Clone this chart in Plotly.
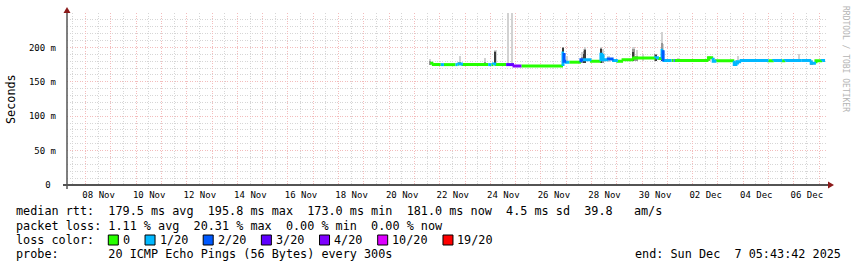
import pandas as pd
import plotly.graph_objects as go

# ------------------------------------------------------------------ data
# median RTT as step segments: start time, median (ms), lost pings (of 20)
seg_start = [
    "2025-11-21 15:00", "2025-11-21 18:00", "2025-11-22 01:00", "2025-11-22 04:00",
    "2025-11-22 15:00", "2025-11-22 17:00", "2025-11-22 18:00", "2025-11-22 22:00",
    "2025-11-23 22:00", "2025-11-24 01:00", "2025-11-24 03:00", "2025-11-24 05:30",
    "2025-11-24 15:00", "2025-11-24 22:30", "2025-11-25 05:30", "2025-11-26 21:00",
    "2025-11-26 22:00", "2025-11-27 00:00", "2025-11-27 03:00", "2025-11-27 14:00",
    "2025-11-27 16:00", "2025-11-28 00:00", "2025-11-28 09:00", "2025-11-28 11:00",
    "2025-11-28 16:00", "2025-11-28 21:00", "2025-11-29 01:00", "2025-11-29 06:00",
    "2025-11-29 16:00", "2025-11-30 13:00", "2025-11-30 16:00", "2025-11-30 19:00",
    "2025-11-30 20:00", "2025-11-30 21:00", "2025-12-01 04:00", "2025-12-01 06:00",
    "2025-12-01 07:00", "2025-12-02 15:00", "2025-12-02 19:30", "2025-12-02 22:30",
    "2025-12-03 15:30", "2025-12-03 18:30", "2025-12-03 22:00", "2025-12-05 00:00",
    "2025-12-05 05:00", "2025-12-05 13:00", "2025-12-05 16:00", "2025-12-06 07:00",
    "2025-12-06 16:30", "2025-12-06 21:00", "2025-12-07 03:00",
]
seg_median_ms = [
    177, 175, 175, 175,
    175, 175, 176, 175,
    175, 175, 176, 175,
    175, 173, 173, 192,
    180, 178.5, 178.5, 182,
    182, 180, 190, 182,
    183, 181, 180, 182,
    184.5, 185, 184, 195.8,
    182, 181, 181, 181,
    181, 185, 180, 180.5,
    175, 179, 181, 180.5,
    181, 180.5, 181, 181,
    177, 180.5, 181,
]
seg_loss = [
    0, 0, 1, 0,
    1, 0, 1, 0,
    1, 0, 1, 0,
    3, 5, 0, 1,
    2, 1, 0, 2,
    1, 0, 1, 1,
    2, 1, 0, 0,
    0, 1, 0, 1,
    2, 1, 0, 2,
    0, 0, 1, 0,
    1, 1, 1, 0,
    1, 0, 1, 1,
    1, 0, 1,
]
data_end = "2025-12-07 05:40"

# smoke (ping spread) where it is visible: time, low, max, upper-mid, core (ms)
smoke_time = [
    "2025-11-21 15:00", "2025-11-22 19:00", "2025-11-23 19:00", "2025-11-24 05:00",
    "2025-11-24 17:00", "2025-11-24 20:30", "2025-11-26 21:00", "2025-11-27 01:00",
    "2025-11-27 15:00", "2025-11-27 17:00", "2025-11-27 18:00", "2025-11-28 09:00",
    "2025-11-28 11:00", "2025-11-28 16:00", "2025-11-29 16:00", "2025-11-29 19:00",
    "2025-11-30 01:00", "2025-11-30 13:00", "2025-11-30 19:00", "2025-11-30 20:00",
    "2025-12-01 10:00", "2025-12-02 16:00", "2025-12-03 17:00", "2025-12-03 19:00",
    "2025-12-06 05:00", "2025-12-06 17:00",
]
smoke_low_ms = [
    174, 174, 174, 174, 174, 174, 176, 177, 178, 178, 178, 178, 178,
    179, 180, 180, 180, 180, 180, 180, 179, 180, 173, 177, 179, 175,
]
smoke_max_ms = [
    183, 187, 184, 196, 265, 265, 201, 187, 193, 198, 200, 201, 198,
    188, 200, 196, 190, 191, 222, 205, 184, 187, 181, 188, 190, 181,
]
smoke_mid_ms = [
    180, 179, 179, 195, None, None, 200, None, 186, 195, 198, 199, 190,
    None, 197, 188, None, 190, 206, 196, 183, 186, 179, None, None, 179,
]
smoke_core_ms = [
    None, None, None, 193, None, None, 199, None, None, 190, 196, 197, None,
    None, 194, None, None, 189, 197, None, None, None, 178, None, None, None,
]

loss_labels = ["0", "1/20", "2/20", "3/20", "4/20", "10/20", "19/20"]
loss_min_count = [0, 1, 2, 3, 4, 10, 19]
loss_colors = ["#26ff00", "#00b8ff", "#0059ff", "#5e00ff", "#7e00ff", "#dd00ff", "#ff0000"]

x_tick_days = list(pd.date_range("2025-11-08", "2025-12-07", freq="D"))
x_tick_text = [d.strftime("%d %b") if d.day % 2 == 0 else "" for d in x_tick_days]
y_tick_ms = [0, 50, 100, 150, 200]
y_tick_text = ["0\u00a0", "50 m", "100 m", "150 m", "200 m"]

legend_rows = [
    "median rtt:  179.5 ms avg  195.8 ms max  173.0 ms min  181.0 ms now  4.5 ms sd  39.8   am/s",
    "packet loss: 1.11 % avg  20.31 % max  0.00 % min  0.00 % now",
    "loss color:",
    "probe:       20 ICMP Echo Pings (56 Bytes) every 300s",
]
end_text = "end: Sun Dec  7 05:43:42 2025"
watermark = "RRDTOOL / TOBI OETIKER"

# ------------------------------------------------------------------ layout helpers
W, H = 857, 267
PL, PR, PT, PB = 67, 827, 13, 185
MONO = "DejaVu Sans Mono"


def px(x):
    return (x - PL) / (PR - PL)


def py(y):
    return (PB - y) / (PB - PT)


def nb(s):
    return s.replace(" ", "\u00a0")


def loss_class(n):
    return max(i for i, t in enumerate(loss_min_count) if n >= t)


fig = go.Figure()

# smoke layers
def smoke_layer(tops, color, width_ms):
    xs, base, h = [], [], []
    for t, lo, top in zip(smoke_time, smoke_low_ms, tops):
        if top is None:
            continue
        xs.append(t)
        base.append(lo / 1000)
        h.append((top - lo) / 1000)
    return go.Bar(x=xs, y=h, base=base, width=width_ms,
                  marker=dict(color=color, line=dict(width=0)), hoverinfo="skip")


fig.add_trace(smoke_layer(smoke_max_ms, "#d2d2d2", 8400000))
fig.add_trace(smoke_layer(smoke_mid_ms, "#969696", 6000000))
fig.add_trace(smoke_layer(smoke_core_ms, "#3a3a3a", 4800000))

# median line, coloured by loss
seg_end = seg_start[1:] + [data_end]
tx = {c: [] for c in range(len(loss_colors))}
ty = {c: [] for c in range(len(loss_colors))}
for i, (s, e, v, n) in enumerate(zip(seg_start, seg_end, seg_median_ms, seg_loss)):
    c = loss_class(n)
    if i > 0 and seg_median_ms[i - 1] != v:
        tx[c].append(s)
        ty[c].append(seg_median_ms[i - 1] / 1000)
    tx[c] += [s, e, None]
    ty[c] += [v / 1000, v / 1000, None]
for c in range(len(loss_colors)):
    if tx[c]:
        fig.add_trace(go.Scatter(x=tx[c], y=ty[c], mode="lines", connectgaps=False,
                                 line=dict(color=loss_colors[c], width=3)))

RED_GRID = "#f3bcbc"
GRAY_GRID = "#d6d6d6"
DOTS = "1px,1.5px"

fig.update_layout(
    width=W, height=H,
    margin=dict(l=PL, r=W - PR, t=PT, b=H - PB),
    paper_bgcolor="white", plot_bgcolor="white",
    showlegend=False, barmode="overlay", bargap=0,
    xaxis=dict(
        type="date", range=["2025-11-07 06:20", "2025-12-07 07:30"],
        tickmode="array", tickvals=x_tick_days, ticktext=x_tick_text,
        ticklabelshift=13, ticklabelstandoff=3,
        showgrid=True, gridcolor=RED_GRID, griddash=DOTS, gridwidth=1,
        minor=dict(tickmode="linear", tick0="2025-11-07 12:00", dtick=43200000,
                   showgrid=True, gridcolor=GRAY_GRID, griddash=DOTS, gridwidth=1),
        showline=False, zeroline=False, ticks="",
        tickfont=dict(family=MONO, size=9, color="#000"),
    ),
    yaxis=dict(
        range=[0, 0.25], tickmode="array",
        tickvals=[v / 1000 for v in y_tick_ms], ticktext=[nb(t) for t in y_tick_text],
        showgrid=True, gridcolor=RED_GRID, griddash=DOTS, gridwidth=1,
        minor=dict(tickmode="linear", tick0=0, dtick=0.01, showgrid=True,
                   gridcolor=GRAY_GRID, griddash=DOTS, gridwidth=1),
        showline=False, zeroline=False, ticks="", ticklabelstandoff=10,
        tickfont=dict(family=MONO, size=9, color="#000"),
    ),
)

shapes = [
    # axes
    dict(type="line", xref="paper", yref="paper", x0=px(63), x1=px(829), y0=py(185), y1=py(185),
         line=dict(color="#1a1a1a", width=1.5)),
    dict(type="line", xref="paper", yref="paper", x0=px(67), x1=px(67), y0=py(189), y1=py(12),
         line=dict(color="#555555", width=1.5)),
    dict(type="path", xref="paper", yref="paper",
         path=f"M {px(828)} {py(181.5)} L {px(834)} {py(185)} L {px(828)} {py(188.5)} Z",
         fillcolor="#8b1a1a", line=dict(width=0)),
    dict(type="path", xref="paper", yref="paper",
         path=f"M {px(63.5)} {py(13)} L {px(67)} {py(7)} L {px(70.5)} {py(13)} Z",
         fillcolor="#8b1a1a", line=dict(width=0)),
]

annotations = []
row_y = [211, 225.5, 240, 254]
for txt, yy in zip(legend_rows, row_y):
    annotations.append(dict(text=nb(txt), xref="paper", yref="paper", x=px(14), y=py(yy),
                            xanchor="left", yanchor="middle", showarrow=False,
                            font=dict(family=MONO, size=11.8, color="#000")))
annotations.append(dict(text=nb(end_text), xref="paper", yref="paper", x=px(843), y=py(row_y[3]),
                        xanchor="right", yanchor="middle", showarrow=False,
                        font=dict(family=MONO, size=11.8, color="#000")))

# loss colour boxes
CELL = 7.14
bx = 108.3
for lab, col in zip(loss_labels, loss_colors):
    shapes.append(dict(type="rect", xref="paper", yref="paper",
                       x0=px(bx), x1=px(bx + 10), y0=py(row_y[2] - 5), y1=py(row_y[2] + 5),
                       fillcolor=col, line=dict(color="#000", width=1)))
    annotations.append(dict(text=nb(lab), xref="paper", yref="paper", x=px(bx + 12.5), y=py(row_y[2]),
                            xanchor="left", yanchor="middle", showarrow=False,
                            font=dict(family=MONO, size=11.8, color="#000")))
    bx += 14.3 + len(lab) * CELL + 14.3 + 1.0

annotations.append(dict(text="Seconds", xref="paper", yref="paper", x=px(11), y=py(99),
                        xanchor="center", yanchor="middle", textangle=-90, showarrow=False,
                        font=dict(family=MONO, size=11.8, color="#000")))
annotations.append(dict(text=nb(watermark), xref="paper", yref="paper", x=px(846), y=py(59),
                        xanchor="center", yanchor="middle", textangle=90, showarrow=False,
                        font=dict(family=MONO, size=8, color="#b4b4b4")))

fig.update_layout(shapes=shapes, annotations=annotations)

fig.write_html("out.html")
